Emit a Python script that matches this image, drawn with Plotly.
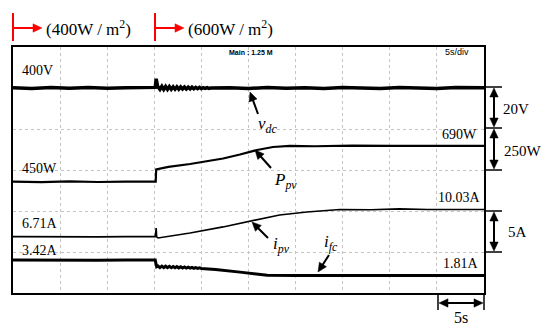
import math
import plotly.graph_objects as go

# ---------------- data ----------------
# time in seconds (5 s/div, 10 divisions)
vdc_t = [0, 2, 4, 6, 8, 10, 12, 14, 15.1, 15.2, 15.35,
         15.6, 15.8, 16.0, 16.2, 16.4, 16.6, 16.8, 17.0, 17.2, 17.4,
         17.6, 17.8, 18.0, 18.2, 18.4, 18.6, 18.8, 19.0, 19.2, 19.4,
         19.6, 19.8, 20.0, 20.2, 20.4, 20.6, 20.8, 21.0,
         23, 25, 27, 29, 31, 33, 35, 37, 39, 41, 43, 45, 47, 49, 50]
vdc_v = [400.1, 399.8, 400.2, 399.9, 400.3, 399.9, 400.1, 400.0, 400.3, 404.5, 400.8,
         399.3, 400.8, 399.3, 400.7, 399.3, 400.7, 399.4, 400.6, 399.4, 400.6,
         399.4, 400.5, 399.5, 400.5, 399.5, 400.4, 399.6, 400.4, 399.6, 400.3,
         399.7, 400.3, 399.7, 400.2, 399.8, 400.2, 399.8, 400.0,
         400.1, 399.8, 400.2, 399.9, 400.1, 399.8, 400.3, 400.0, 399.8, 400.2, 400.0, 399.8, 400.2, 400.0, 400.1]

ppv_t = [0, 3, 6, 9, 12, 15.15, 15.2, 16.5, 18.8, 20.6, 22.3, 24.1, 25.9, 27.6, 29.4,
         32, 36, 40, 44, 48, 50]
ppv_w = [450, 447, 452, 448, 451, 450, 533, 550, 569, 588, 606, 633, 663, 683, 690,
         688, 692, 690, 688, 691, 690]

ipv_t = [0, 3, 6, 9, 12, 15.1, 15.2, 15.25, 15.4, 18.8, 22.3, 25.9, 28.3, 31.2, 34.7,
         38, 41, 44, 47, 50]
ipv_a = [6.71, 6.68, 6.74, 6.69, 6.72, 6.71, 7.77, 6.7, 6.55, 7.16, 7.9, 8.75, 9.36, 9.72, 10.03,
         10.0, 10.1, 10.02, 10.04, 10.03]

ifc_t = [0, 3, 6, 9, 12, 15.1, 15.25,
         15.4, 15.6, 15.8, 16.0, 16.2, 16.4, 16.6, 16.8, 17.0, 17.2, 17.4, 17.6,
         17.8, 18.0, 18.2, 18.4, 18.6, 18.8, 19.0, 19.2, 19.4, 19.6, 19.8, 20.0,
         21.5, 24.1, 27.0, 30, 34, 38, 42, 46, 50]
ifc_a = [3.42, 3.4, 3.45, 3.41, 3.43, 3.42, 2.72,
         2.8, 2.64, 2.79, 2.64, 2.78, 2.63, 2.77, 2.63, 2.75, 2.62, 2.74, 2.61,
         2.72, 2.6, 2.7, 2.59, 2.68, 2.58, 2.66, 2.57, 2.64, 2.56, 2.62, 2.55,
         2.45, 2.17, 1.85, 1.81, 1.8, 1.83, 1.8, 1.82, 1.81]

# text labels
level_labels = ["400V", "450W", "6.71A", "3.42A", "690W", "10.03A", "1.81A"]
scale_labels = ["20V", "250W", "5A", "5s"]
irr_labels = ["(400W / m<sup>2</sup>)", "(600W / m<sup>2</sup>)"]

# ---------------- layout helpers ----------------
# the page body adds an 8 px offset; figure is sized so it fills the 550x330 window
OFF = 8
FW, FH = 550 - OFF, 330 - OFF
L, T, R, B = 13, 47, 484, 293          # frame edges in window pixels
W, H = R - L, B - T


def px(x, y):
    return (x - L) / W, (B - y) / H


SERIF = "Liberation Serif"
fig = go.Figure()

fig.add_trace(go.Scatter(x=vdc_t, y=vdc_v, mode="lines", yaxis="y",
                         line=dict(color="black", width=3.5), hoverinfo="skip"))
fig.add_trace(go.Scatter(x=ppv_t, y=ppv_w, mode="lines", yaxis="y2",
                         line=dict(color="black", width=2.2), hoverinfo="skip"))
fig.add_trace(go.Scatter(x=ipv_t, y=ipv_a, mode="lines", yaxis="y3",
                         line=dict(color="black", width=1.6), hoverinfo="skip"))
fig.add_trace(go.Scatter(x=ifc_t, y=ifc_a, mode="lines", yaxis="y4",
                         line=dict(color="black", width=3), hoverinfo="skip"))

ann = []
shapes = []


def text(x, y, s, size=14, family=SERIF, **kw):
    xx, yy = px(x, y)
    ann.append(dict(x=xx, y=yy, xref="paper", yref="paper", text=s, showarrow=False,
                    font=dict(family=family, size=size, color=kw.pop("color", "black")),
                    xanchor="center", yanchor="middle", **kw))


def line(x0, y0, x1, y1, color="black", width=1.5):
    a0, b0 = px(x0, y0)
    a1, b1 = px(x1, y1)
    shapes.append(dict(type="line", xref="paper", yref="paper", x0=a0, y0=b0, x1=a1, y1=b1,
                       line=dict(color=color, width=width)))


def head(hx, hy, tx, ty, color, hl=9, hw=4.2):
    dx, dy = hx - tx, hy - ty
    n = math.hypot(dx, dy)
    ux, uy = dx / n, dy / n
    bx, by = hx - ux * hl, hy - uy * hl
    p1 = px(bx - uy * hw, by + ux * hw)
    p2 = px(bx + uy * hw, by - ux * hw)
    p0 = px(hx, hy)
    path = "M {:.5f},{:.5f} L {:.5f},{:.5f} L {:.5f},{:.5f} Z".format(p0[0], p0[1], p1[0], p1[1], p2[0], p2[1])
    shapes.append(dict(type="path", xref="paper", yref="paper", path=path,
                       fillcolor=color, line=dict(color=color, width=0.5)))
    return bx + ux * 2, by + uy * 2


def arrow(hx, hy, tx, ty, color="black", width=2, both=False):
    ex, ey = head(hx, hy, tx, ty, color)
    sx, sy = (head(tx, ty, hx, hy, color) if both else (tx, ty))
    line(sx, sy, ex, ey, color=color, width=width)


# irradiance markers (top)
for x0, xt, s in [(13, 88, irr_labels[0]), (155, 230, irr_labels[1])]:
    line(x0, 13, x0, 41, color="red", width=2)
    arrow(x0 + 29, 28, x0, 28, color="red", width=2)
    text(xt, 28, s, size=17)

# small scope text
text(251, 52, "<b>Main : 1.25 M</b>", size=7, family="Liberation Sans")
text(457, 52, "5s/div", size=9, family="Liberation Sans")

# level labels
text(37, 70, level_labels[0], size=14)
text(39, 168, level_labels[1], size=14)
text(40, 223, level_labels[2], size=14)
text(40, 250, level_labels[3], size=14)
text(459, 134, level_labels[4], size=14)
text(459, 197, level_labels[5], size=14)
text(461, 263, level_labels[6], size=14)

# signal names with pointer arrows
text(267, 125, "<i>v</i><sub><i>dc</i></sub>", size=17)
arrow(250, 92, 258, 114)
text(285, 181, "<i>P</i><sub><i>pv</i></sub>", size=17)
arrow(255, 150, 271, 168)
text(281, 245, "<i>i</i><sub><i>pv</i></sub>", size=17)
arrow(252, 222, 268, 238)
text(331, 243, "<i>i</i><sub><i>fc</i></sub>", size=17)
arrow(318, 272, 329, 255)

# right-hand scale bars
for yy in [87, 128, 170, 211, 252]:
    line(484, yy, 502, yy)
arrow(494, 88, 494, 127, both=True)
arrow(494, 129, 494, 169, both=True)
arrow(494, 212, 494, 251, both=True)
text(516, 109, scale_labels[0], size=15)
text(523, 151, scale_labels[1], size=15)
text(517, 232, scale_labels[2], size=15)

# bottom time scale
line(438, 293, 438, 310)
line(484, 293, 484, 310)
arrow(439, 303, 483, 303, both=True)
text(461, 317, scale_labels[3], size=16)

grid = dict(showgrid=True, gridcolor="#c4c4c4", griddash="dot", gridwidth=1)

fig.update_layout(
    width=FW, height=FH,
    margin=dict(l=L - OFF, r=550 - R, t=T - OFF, b=330 - B, pad=0),
    paper_bgcolor="white", plot_bgcolor="white",
    showlegend=False,
    xaxis=dict(range=[0, 50], dtick=5, showticklabels=False, ticks="", zeroline=False,
               showline=True, mirror=True, linecolor="black", linewidth=2, fixedrange=True, **grid),
    yaxis=dict(range=[300, 420], dtick=20, showticklabels=False, ticks="", zeroline=False,
               showline=True, mirror=True, linecolor="black", linewidth=2, fixedrange=True, **grid),
    yaxis2=dict(range=[-298, 1355], overlaying="y", visible=False, fixedrange=True),
    yaxis3=dict(range=[-0.16, 29.84], overlaying="y", visible=False, fixedrange=True),
    yaxis4=dict(range=[0, 25.56], overlaying="y", visible=False, fixedrange=True),
    annotations=ann,
    shapes=shapes,
)

fig.write_html("out.html")
